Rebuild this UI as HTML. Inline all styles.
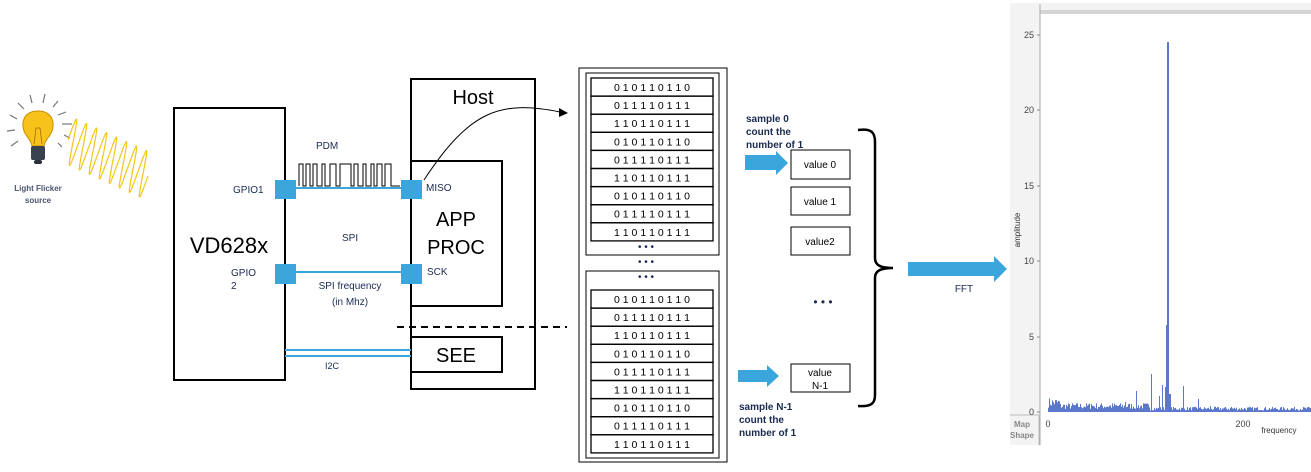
<!DOCTYPE html>
<html><head><meta charset="utf-8"><style>
body{margin:0;width:1311px;height:467px;background:#fff;overflow:hidden;font-family:"Liberation Sans",sans-serif}
</style></head><body>
<svg width="1311" height="467" viewBox="0 0 1311 467" xmlns="http://www.w3.org/2000/svg" font-family="Liberation Sans, sans-serif">
<g stroke="#777" stroke-width="1.2">
<line x1="10" y1="115" x2="17" y2="119"/><line x1="7" y1="131" x2="15" y2="130"/><line x1="11" y1="146" x2="18" y2="141"/>
<line x1="18" y1="103" x2="24" y2="109"/><line x1="30" y1="95" x2="32" y2="103"/><line x1="45" y1="94" x2="43" y2="103"/>
<line x1="58" y1="101" x2="53" y2="107"/><line x1="66" y1="112" x2="58" y2="115"/><line x1="72" y1="124" x2="62" y2="124"/>
<line x1="64" y1="135" x2="70" y2="138"/><line x1="58" y1="143" x2="62" y2="147"/></g>
<path d="M38 111 C24 111 21 122 24 131 C27 138 31 140 32 146 L44 146 C45 140 49 138 52 131 C55 122 52 111 38 111Z" fill="#f7c21a" stroke="#c98f00" stroke-width="1"/>
<path d="M34 144 L36 128 L40 128 L42 144" fill="none" stroke="#a06a00" stroke-width="0.8"/>
<rect x="31" y="146" width="14" height="14" rx="2" fill="#3a4150"/>
<rect x="34" y="160" width="8" height="4" rx="2" fill="#2a2f3a"/>
<path id="wave" fill="none" stroke="#f5c518" stroke-width="1.2" d=""/>
<text x="38" y="191" font-size="8" font-weight="bold" fill="#4a5570" text-anchor="middle">Light Flicker</text>
<text x="38" y="203" font-size="8" font-weight="bold" fill="#4a5570" text-anchor="middle">source</text>

<rect x="174" y="108" width="111" height="272" fill="none" stroke="#000" stroke-width="2"/>
<text x="229" y="253" font-size="22" text-anchor="middle">VD628x</text>
<text x="233" y="193" font-size="10" fill="#1a2a50">GPIO1</text>
<text x="231" y="276" font-size="10" fill="#1a2a50">GPIO</text>
<text x="231" y="289" font-size="10" fill="#1a2a50">2</text>
<rect x="411" y="79" width="124" height="310" fill="none" stroke="#000" stroke-width="2"/>
<text x="473" y="104" font-size="20" text-anchor="middle">Host</text>
<rect x="411" y="161" width="91" height="145" fill="none" stroke="#000" stroke-width="2"/>
<text x="456" y="226" font-size="20" text-anchor="middle">APP</text>
<text x="456" y="254" font-size="20" text-anchor="middle">PROC</text>
<rect x="411" y="337" width="91" height="35" fill="none" stroke="#000" stroke-width="2"/>
<text x="456" y="362" font-size="20" text-anchor="middle">SEE</text>
<line x1="397" y1="327" x2="567" y2="327" stroke="#000" stroke-width="2" stroke-dasharray="7,5"/>
<line x1="285" y1="188" x2="411" y2="188" stroke="#3aa6dc" stroke-width="2"/>
<line x1="285" y1="272" x2="411" y2="272" stroke="#3aa6dc" stroke-width="2"/>
<line x1="285" y1="350" x2="411" y2="350" stroke="#3aa6dc" stroke-width="2"/>
<line x1="285" y1="356" x2="411" y2="356" stroke="#3aa6dc" stroke-width="2"/>
<rect x="275" y="180" width="21" height="19" fill="#3aa6dc"/>
<rect x="401" y="180" width="21" height="19" fill="#3aa6dc"/>
<rect x="275" y="264" width="21" height="20" fill="#3aa6dc"/>
<rect x="401" y="264" width="21" height="20" fill="#3aa6dc"/>
<path d="M299 186 V164 H303 V186 H306 V164 H310 V186 H313 V164 H317 V186 H322 V164 H325 V186 H330 V164 H336 V186 H340 V164 H351 V186 H354 V164 H358 V186 H363 V164 H366 V186 H371 V164 H374 V186 H377 V164 H382 V186 H385 V164 H391 V186 H400" fill="none" stroke="#000" stroke-width="1"/>
<text x="316" y="149" font-size="10" fill="#1a2a50">PDM</text>
<text x="426" y="191" font-size="10" fill="#1a2a50">MISO</text>
<text x="427" y="275" font-size="10" fill="#1a2a50">SCK</text>
<text x="342" y="241" font-size="10" fill="#1a2a50">SPI</text>
<text x="350" y="289" font-size="10" fill="#1a2a50" text-anchor="middle">SPI frequency</text>
<text x="350" y="305" font-size="10" fill="#1a2a50" text-anchor="middle">(in Mhz)</text>
<text x="325" y="369" font-size="9" fill="#1a2a50">I2C</text>
<path d="M424 180 C470 110 500 100 560 112" fill="none" stroke="#000" stroke-width="1"/>
<polygon points="568,113 559,108 559,117" fill="#000"/>

<rect x="579" y="68" width="148" height="394" fill="none" stroke="#000" stroke-width="1"/>
<rect x="586" y="73" width="133" height="182" fill="none" stroke="#000" stroke-width="1"/>
<rect x="586" y="271" width="133" height="187" fill="none" stroke="#000" stroke-width="1"/>
<g id="rows1"></g>
<text x="646" y="250" font-size="10" text-anchor="middle" fill="#1a2a50">• • •</text>
<text x="646" y="265" font-size="10" text-anchor="middle" fill="#1a2a50">• • •</text>
<text x="646" y="280" font-size="10" text-anchor="middle" fill="#1a2a50">• • •</text>

<text x="746" y="122" font-size="10" font-weight="bold" fill="#1a2a50">sample 0</text>
<text x="746" y="135" font-size="10" font-weight="bold" fill="#1a2a50">count the</text>
<text x="746" y="148" font-size="10" font-weight="bold" fill="#1a2a50">number of 1</text>
<polygon points="745,155 776,155 776,151 788,163 776,175 776,170 745,170" fill="#3aa6dc"/>
<polygon points="738,370 767,370 767,365 779,376 767,387 767,382 738,382" fill="#3aa6dc"/>
<text x="739" y="410" font-size="10" font-weight="bold" fill="#1a2a50">sample N-1</text>
<text x="739" y="423" font-size="10" font-weight="bold" fill="#1a2a50">count the</text>
<text x="739" y="436" font-size="10" font-weight="bold" fill="#1a2a50">number of 1</text>
<g font-size="10" text-anchor="middle">
<rect x="791" y="150" width="59" height="29" fill="none" stroke="#000"/><text x="820" y="168">value 0</text>
<rect x="791" y="187" width="59" height="28" fill="none" stroke="#000"/><text x="820" y="205">value 1</text>
<rect x="791" y="227" width="59" height="28" fill="none" stroke="#000"/><text x="820" y="245">value2</text>
<rect x="791" y="364" width="59" height="28" fill="none" stroke="#000"/><text x="820" y="376">value</text><text x="820" y="389">N-1</text>
</g>
<text x="823" y="306" font-size="12" text-anchor="middle" fill="#1a2a50">• • •</text>
<path d="M858 130 C872 128 875 133 875 142 V258 C875 265 880 268 893 268 C880 268 875 271 875 278 V395 C875 403 872 407 858 406" fill="none" stroke="#000" stroke-width="2.5"/>
<polygon points="908,262 994,262 994,256 1007,269 994,282 994,276 908,276" fill="#3aa6dc"/>
<text x="964" y="292" font-size="10" fill="#1a2a50" text-anchor="middle">FFT</text>

<rect x="1010" y="3" width="301" height="442" fill="#f3f3f3"/>
<rect x="1040" y="12" width="271" height="433" fill="#fff"/>
<rect x="1040" y="10" width="271" height="4" fill="#d4d4d4"/>
<line x1="1040" y1="4" x2="1040" y2="445" stroke="#aaa" stroke-width="1"/>
<line x1="1010" y1="415" x2="1040" y2="415" stroke="#bbb"/>
<line x1="1039" y1="415" x2="1039" y2="445" stroke="#bbb"/>
<g font-size="9" fill="#444" text-anchor="end">
<text x="1034" y="38">25</text><text x="1034" y="113">20</text><text x="1034" y="189">15</text>
<text x="1034" y="264">10</text><text x="1034" y="340">5</text><text x="1034" y="415">0</text></g>
<g stroke="#888"><line x1="1037" y1="35" x2="1040" y2="35"/><line x1="1037" y1="110" x2="1040" y2="110"/><line x1="1037" y1="186" x2="1040" y2="186"/><line x1="1037" y1="261" x2="1040" y2="261"/><line x1="1037" y1="337" x2="1040" y2="337"/><line x1="1037" y1="412" x2="1040" y2="412"/></g>
<text transform="translate(1020,230) rotate(-90)" font-size="8" fill="#333" text-anchor="middle">amplitude</text>
<text x="1048" y="427" font-size="9" fill="#444" text-anchor="middle">0</text>
<text x="1243" y="427" font-size="9" fill="#444" text-anchor="middle">200</text>
<text x="1279" y="433" font-size="8" fill="#333" text-anchor="middle">frequency</text>
<text x="1022" y="427" font-size="8" fill="#888" text-anchor="middle" font-weight="bold">Map</text>
<text x="1022" y="438" font-size="8" fill="#888" text-anchor="middle" font-weight="bold">Shape</text>
<g id="bars" fill="#5b78cc"></g>
</svg>
<script>
var ns="http://www.w3.org/2000/svg";
var d="";for(var i=0;i<=400;i++){var t=i/400;var x=68+t*80,y=140+t*36;var ph=Math.sin(t*Math.PI*2*8);d+=(i?"L":"M")+(x+ph*6).toFixed(1)+" "+(y-ph*22).toFixed(1);}
document.getElementById("wave").setAttribute("d",d);
var pats=["0 1 0 1 1 0 1 1 0","0 1 1 1 1 0 1 1 1","1 1 0 1 1 0 1 1 1"];
var g=document.getElementById("rows1");
function rows(y0){for(var r=0;r<9;r++){var y=y0+r*18.1;var re=document.createElementNS(ns,"rect");re.setAttribute("x",591);re.setAttribute("y",y);re.setAttribute("width",122);re.setAttribute("height",18.1);re.setAttribute("fill","none");re.setAttribute("stroke","#000");re.setAttribute("stroke-width","1.3");g.appendChild(re);
var tx=document.createElementNS(ns,"text");tx.setAttribute("x",652);tx.setAttribute("y",y+13);tx.setAttribute("font-size","10.5");tx.setAttribute("text-anchor","middle");tx.textContent=pats[r%3];g.appendChild(tx);}}
rows(78);rows(290);
var b=document.getElementById("bars");var s=7;function rnd(){s=(s*16807)%2147483647;return s/2147483647;}
var peaks={1167:370,1166:87,1168:72,1151:38,1136:21,1183:26,1162:27,1159:16,1198:13,1165:25,1169:18,1170:18,1075:7,1091:8,1125:10,1210:6,1231:5};
for(var x=1048;x<1311;x++){var base=x<1060?11:(x<1150?7:4);var h=base*(0.4+rnd()*0.9);if(peaks[x])h=peaks[x];
var r=document.createElementNS(ns,"rect");r.setAttribute("x",x);r.setAttribute("y",412-h);r.setAttribute("width",x==1167?2:1);r.setAttribute("height",h);b.appendChild(r);}
</script>
</body></html>
